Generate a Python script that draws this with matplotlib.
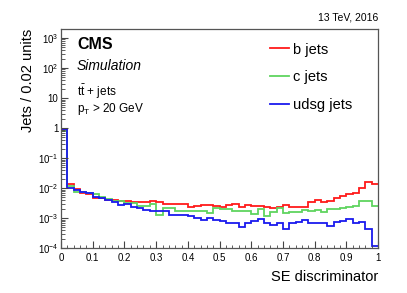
import numpy as np
import matplotlib
matplotlib.use('Agg')
from matplotlib import pyplot as plt
from matplotlib.ticker import FixedLocator, FuncFormatter, LogLocator, NullFormatter

plt.rcParams['font.family'] = ['Liberation Sans', 'DejaVu Sans']
plt.rcParams['mathtext.fontset'] = 'custom'
plt.rcParams['mathtext.rm'] = 'Liberation Sans'
plt.rcParams['mathtext.it'] = 'Liberation Sans:italic'

# 50 bins of 0.02 in SE discriminator
edges = np.linspace(0, 1, 51)
b_jets = [0.85, 0.0144, 0.0093, 0.0072, 0.0063, 0.0049, 0.0046, 0.0042, 0.0042, 0.0038,
          0.0038, 0.0035, 0.0035, 0.0035, 0.0038, 0.0036, 0.0031, 0.0031, 0.0031, 0.0031,
          0.0024, 0.0026, 0.0029, 0.0029, 0.0026, 0.0024, 0.0029, 0.0031, 0.0024, 0.0029,
          0.0026, 0.0026, 0.0024, 0.0022, 0.0024, 0.0029, 0.0024, 0.0024, 0.0024, 0.0035,
          0.0040, 0.0035, 0.0038, 0.0049, 0.0055, 0.0063, 0.0072, 0.0105, 0.0163, 0.0144]
c_jets = [0.80, 0.0120, 0.0078, 0.0078, 0.0072, 0.0063, 0.0053, 0.0045, 0.0038, 0.0037,
          0.0033, 0.0033, 0.0026, 0.0026, 0.0030, 0.0013, 0.0023, 0.0023, 0.0018, 0.0018,
          0.0018, 0.0018, 0.0018, 0.0015, 0.0023, 0.0020, 0.0021, 0.0017, 0.0017, 0.0017,
          0.0014, 0.0020, 0.0012, 0.0016, 0.0023, 0.0015, 0.0016, 0.0016, 0.0019, 0.0018,
          0.0019, 0.0016, 0.0021, 0.0021, 0.0023, 0.0024, 0.0026, 0.0038, 0.0038, 0.0026]
udsg_jets = [0.95, 0.0105, 0.0086, 0.0078, 0.0072, 0.0053, 0.0046, 0.0041, 0.0035, 0.0028,
             0.0031, 0.0024, 0.0022, 0.0019, 0.0018, 0.0017, 0.0017, 0.0013, 0.0013, 0.0013,
             0.0012, 0.0010, 0.00088, 0.0010, 0.00088, 0.00079, 0.00072, 0.00072, 0.00053, 0.00070,
             0.00081, 0.00095, 0.00070, 0.00062, 0.00072, 0.00046, 0.00072, 0.00075, 0.00086, 0.00072,
             0.00072, 0.00072, 0.00058, 0.00075, 0.00081, 0.00098, 0.00072, 0.00075, 0.00046, 0.00012]

fig = plt.figure(figsize=(4.07, 2.93), dpi=100)
ax = fig.add_axes([0.150, 0.152, 0.779, 0.749])
ax.stairs(b_jets, edges, color='#ff1a1a', lw=1.3, baseline=None, label='b jets')
ax.stairs(c_jets, edges, color='#5fd45f', lw=1.3, baseline=None, label='c jets')
ax.stairs(udsg_jets, edges, color='#1a1aee', lw=1.3, baseline=None, label='udsg jets')

ax.set_yscale('log')
ax.set_xlim(0, 1)
ax.set_ylim(1e-4, 10**3.3)

def ylab(v, pos):
    e = int(round(np.log10(v)))
    if e == 0:
        return '1'
    if e == 1:
        return '10'
    return '$10^{%d}$' % e
ax.yaxis.set_major_locator(FixedLocator([10.0**k for k in range(-4, 4)]))
ax.yaxis.set_major_formatter(FuncFormatter(ylab))
ax.yaxis.set_minor_locator(LogLocator(base=10, subs=np.arange(2, 10), numticks=20))
ax.yaxis.set_minor_formatter(NullFormatter())
ax.set_xticks(np.arange(0, 1.01, 0.1))
ax.set_xticklabels(['0', '0.1', '0.2', '0.3', '0.4', '0.5', '0.6', '0.7', '0.8', '0.9', '1'])
ax.set_xticks(np.arange(0, 1.001, 0.02), minor=True)
ax.tick_params(which='both', direction='in', top=False, right=False, labelsize=7, color='#444444')
ax.tick_params(axis='y', which='major', length=5, pad=2)
ax.tick_params(axis='y', which='minor', length=3)
ax.tick_params(axis='x', which='major', length=5, pad=3)
ax.tick_params(axis='x', which='minor', length=2.5)
for s in ax.spines.values():
    s.set_color('#555555')
    s.set_linewidth(0.9)

ax.set_xlabel('SE discriminator', fontsize=10.5, loc='right', labelpad=5)
ax.set_ylabel('Jets / 0.02 units', fontsize=10.5, loc='top', labelpad=2)

fig.text(0.929, 0.94, '13 TeV, 2016', ha='right', va='center', fontsize=7.5)
ax.text(0.05, 0.93, 'CMS', transform=ax.transAxes, fontsize=11.5, fontweight='bold', va='center')
ax.text(0.05, 0.83, 'Simulation', transform=ax.transAxes, fontsize=10, style='italic', va='center')
ax.text(0.05, 0.715, r't$\bar{\mathrm{t}}$ + jets', transform=ax.transAxes, fontsize=8.5, va='center')
ax.text(0.05, 0.635, r'p$_{\mathrm{T}}$ > 20 GeV', transform=ax.transAxes, fontsize=8.5, va='center')

ax.legend(loc='upper left', bbox_to_anchor=(0.64, 0.965), frameon=False, fontsize=10.5,
          handlelength=1.3, handletextpad=0.3, labelspacing=0.95, borderaxespad=0)

plt.savefig('out.png', dpi=100)
